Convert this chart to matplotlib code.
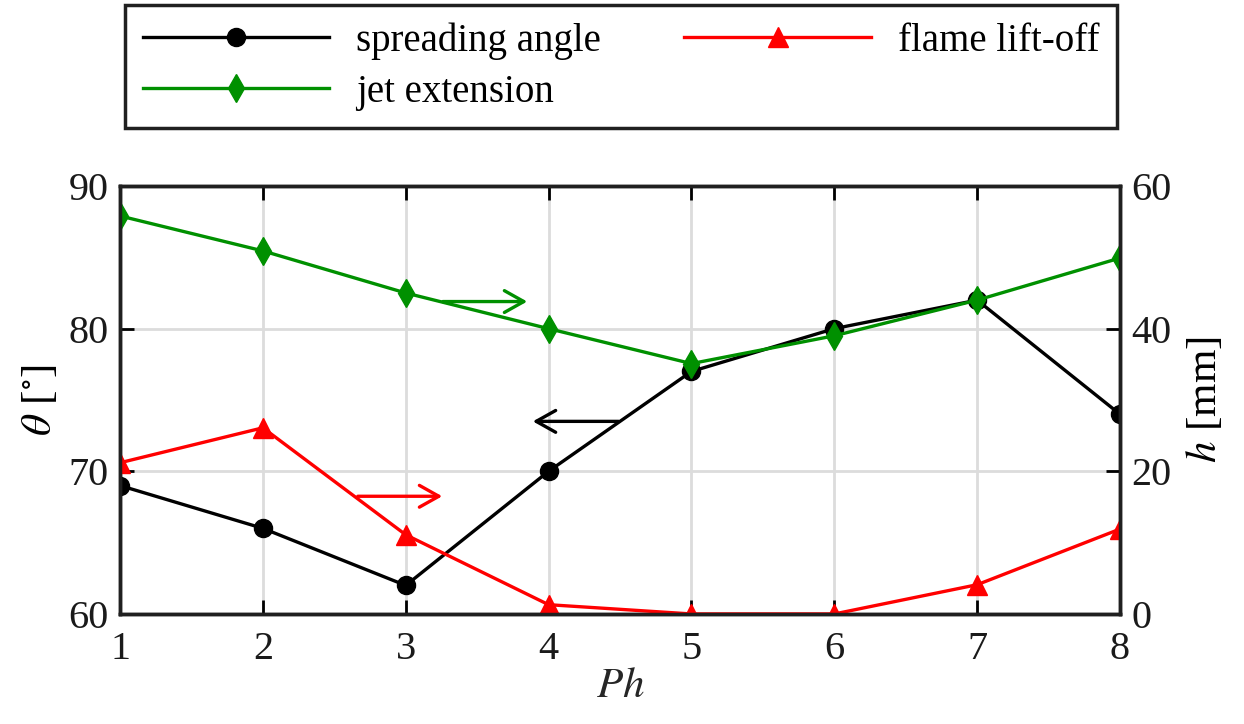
import numpy as np
import matplotlib
matplotlib.use("Agg")
import matplotlib.pyplot as plt

plt.rcParams["font.family"] = ["Liberation Serif", "DejaVu Serif"]
plt.rcParams["mathtext.fontset"] = "stix"
plt.rcParams["font.size"] = 28

ph = [1, 2, 3, 4, 5, 6, 7, 8]
spreading_angle = [69, 66, 62, 70, 77, 80, 82, 74]          # deg, left axis
flame_liftoff = [21.2, 26.1, 11.1, 1.3, 0.0, 0.0, 4.1, 11.9]  # mm, right axis
jet_extension = [55.8, 50.9, 45.0, 40.0, 35.1, 39.0, 44.0, 49.9]  # mm, right axis

fig = plt.figure(figsize=(12.44, 7.24), dpi=100)
ax = fig.add_axes([0.0965, 0.152, 0.8038, 0.5911])
ax2 = ax.twinx()

l1, = ax.plot(ph, spreading_angle, "-o", color="black", lw=2.4, ms=13)
l2, = ax2.plot(ph, flame_liftoff, "-^", color="red", lw=2.4, ms=14)
l3, = ax2.plot(ph, jet_extension, "-d", color="#009000", lw=2.4, ms=14)

ax.set_xlim(1, 8)
ax.set_ylim(60, 90)
ax2.set_ylim(0, 60)
ax.set_xticks(ph)
ax.set_yticks([60, 70, 80, 90])
ax2.set_yticks([0, 20, 40, 60])
ax.grid(True, color="#dcdcdc", lw=2)
ax.set_axisbelow(True)

for a in (ax, ax2):
    a.tick_params(direction="in", length=10, width=2, labelsize=29, pad=8,
                  labelcolor="#1a1a1a")
    for s in a.spines.values():
        s.set_linewidth(2.5)
        s.set_color("#202020")
ax.tick_params(top=True)
ax.tick_params(axis="x", pad=12)

ax.set_xlabel("$Ph$", fontsize=31, labelpad=0, color="#262626")
ax.set_ylabel(r"$\theta$ [$^{\circ}$]", fontsize=31, labelpad=6)
ax2.set_ylabel("$h$ [mm]", fontsize=31, labelpad=10)

# arrows pointing to each curve's axis
arr = dict(arrowstyle="->,head_length=0.5,head_width=0.28", lw=2.4)
ax2.annotate("", xy=(3.87, 43.8), xytext=(3.24, 43.8),
             arrowprops=dict(arr, color="#009000"))
ax2.annotate("", xy=(3.275, 16.5), xytext=(2.645, 16.5),
             arrowprops=dict(arr, color="red"))
ax.annotate("", xy=(3.87, 73.5), xytext=(4.51, 73.5),
            arrowprops=dict(arr, color="black"))

leg = fig.legend([l1, l3, l2], ["spreading angle", "jet extension", "flame lift-off"],
                 ncol=2, loc="upper left", bbox_to_anchor=(0.1005, 0.825, 0.7975, 0.168),
                 mode="expand", prop={"family": "Liberation Serif", "size": 28},
                 handlelength=4.8, fancybox=False, edgecolor="#202020",
                 framealpha=1, borderpad=0.45, borderaxespad=0,
                 labelspacing=0.35, columnspacing=1.0, handletextpad=0.7)
leg.get_frame().set_linewidth(2.5)

fig.savefig("out.png", dpi=100)
